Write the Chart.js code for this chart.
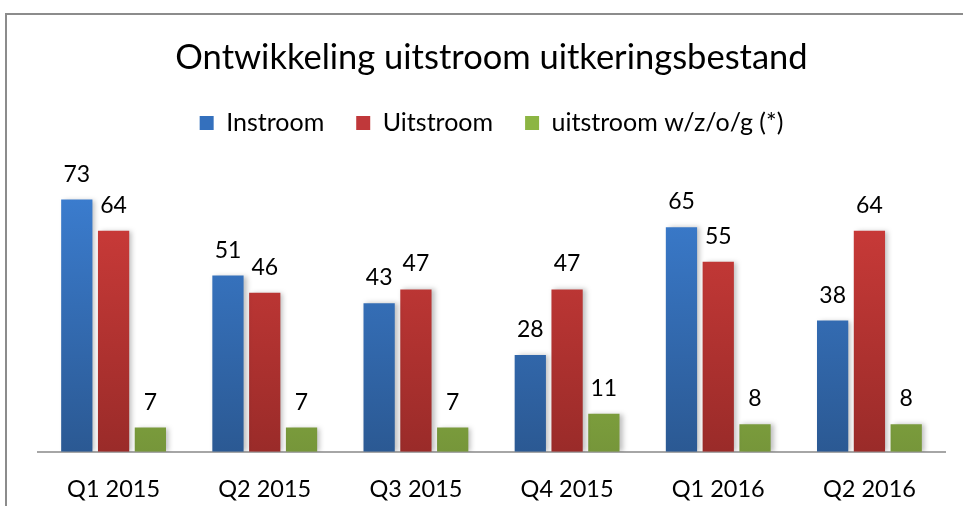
<!DOCTYPE html>
<html>
<head>
<meta charset="utf-8">
<script src="https://cdn.jsdelivr.net/npm/chart.js@4.4.1/dist/chart.umd.min.js"></script>
<style>
  html, body { margin:0; padding:0; background:#fff; }
  #wrap { position:relative; width:963px; height:506px; overflow:hidden; }
  #frame { position:absolute; left:5px; top:13px; width:1000px; height:600px; border-left:2px solid #8c8c8c; border-top:2px solid #8c8c8c; }
  canvas { position:absolute; left:0; top:0; }
</style>
</head>
<body>
<div id="wrap">
  <div id="frame"></div>
  <canvas id="chart" width="963" height="506"></canvas>
</div>
<script>
// ── DATA ──
const quarters  = ['Q1 2015', 'Q2 2015', 'Q3 2015', 'Q4 2015', 'Q1 2016', 'Q2 2016'];
const instroom  = [73, 51, 43, 28, 65, 38];
const uitstroom = [64, 46, 47, 47, 55, 64];
const uitWzog   = [7, 7, 7, 11, 8, 8];

const FONT = 'Lato, "Open Sans", sans-serif';

// vertical gradient per series, top colour → bottom colour
function grad(top, bottom) {
  return (c) => {
    const area = c.chart.chartArea;
    if (!area) return top;
    const g = c.chart.ctx.createLinearGradient(0, area.top, 0, area.bottom);
    g.addColorStop(0, top);
    g.addColorStop(1, bottom);
    return g;
  };
}

// ── VALUE LABELS ABOVE BARS ──
const valueLabels = {
  id: 'valueLabels',
  afterDatasetsDraw(chart) {
    const ctx = chart.ctx;
    ctx.save();
    ctx.font = '23px ' + FONT;
    ctx.fillStyle = '#000';
    ctx.textAlign = 'center';
    ctx.textBaseline = 'alphabetic';
    chart.data.datasets.forEach((ds, i) => {
      chart.getDatasetMeta(i).data.forEach((bar, j) => {
        ctx.fillText(ds.data[j], bar.x, bar.y - 18);
      });
    });
    ctx.restore();
  }
};

// soft shadow behind bars
const barShadow = {
  id: 'barShadow',
  beforeDatasetsDraw(chart) {
    const ctx = chart.ctx;
    ctx.save();
    ctx.shadowColor = 'rgba(0,0,0,0.25)';
    ctx.shadowBlur = 5;
    ctx.shadowOffsetX = 3;
    ctx.shadowOffsetY = 0;
  },
  afterDatasetsDraw(chart) {
    chart.ctx.restore();
  }
};

// extra room between legend and bars
const legendGap = {
  id: 'legendGap',
  beforeInit(chart) {
    const fit = chart.legend.fit;
    chart.legend.fit = function () {
      fit.call(this);
      this.height += 30;
    };
  }
};

new Chart(document.getElementById('chart').getContext('2d'), {
  type: 'bar',
  data: {
    labels: quarters,
    datasets: [
      { label: 'Instroom',             data: instroom,  backgroundColor: grad('#3c7fd3', '#2b5993') },
      { label: 'Uitstroom',            data: uitstroom, backgroundColor: grad('#d23d3b', '#9a2b29') },
      { label: 'uitstroom w/z/o/g (*)', data: uitWzog,   backgroundColor: grad('#9dc84a', '#76963a') },
    ]
  },
  options: {
    responsive: false,
    animation: false,
    categoryPercentage: 0.73,
    barPercentage: 0.85,
    layout: { padding: { left: 38, right: 18, top: 0, bottom: -14 } },
    plugins: {
      title: {
        display: true,
        text: 'Ontwikkeling uitstroom uitkeringsbestand',
        color: '#000',
        font: { family: FONT, size: 34.5, weight: 'normal' },
        padding: { top: 37, bottom: 0 }
      },
      legend: {
        position: 'top',
        labels: {
          color: '#000',
          font: { family: FONT, size: 25 },
          boxWidth: 14,
          boxHeight: 14,
          padding: 32,
          generateLabels(chart) {
            const cols = ['#3470bd', '#c0383a', '#8cb543'];
            return chart.data.datasets.map((ds, i) => ({
              text: ds.label, fillStyle: cols[i], strokeStyle: cols[i], lineWidth: 0, datasetIndex: i
            }));
          }
        }
      },
      tooltip: { enabled: false }
    },
    scales: {
      x: {
        grid: { display: false },
        border: { display: true, color: '#a6a6a6', width: 2 },
        ticks: { color: '#000', font: { family: FONT, size: 23.5 }, padding: 16 }
      },
      y: {
        display: false,
        min: 0,
        max: 80
      }
    }
  },
  plugins: [barShadow, valueLabels, legendGap]
});
</script>
</body>
</html>
